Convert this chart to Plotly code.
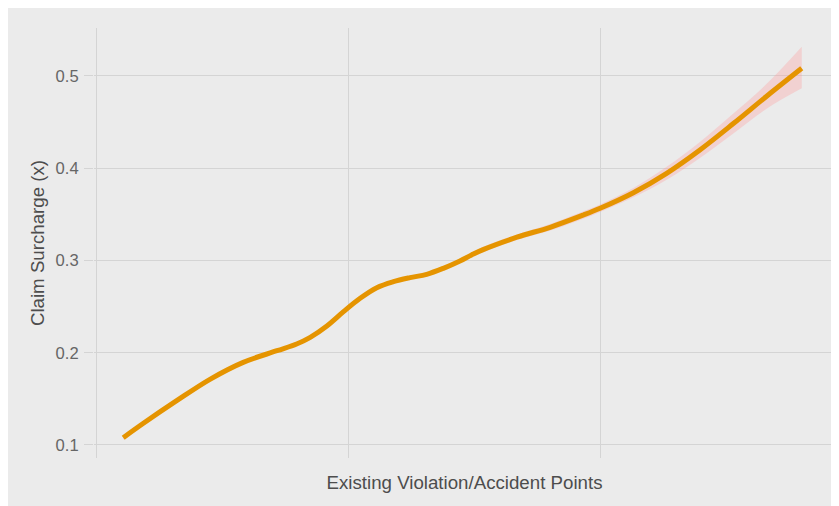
import plotly.graph_objects as go

# Claim surcharge vs. existing violation/accident points (smoothed fit + band)
points = [0.54, 0.94, 1.60, 2.26, 2.92, 3.59, 3.98, 4.25, 4.58, 4.91, 5.24, 5.57, 5.90, 6.23,
          6.56, 6.89, 7.22, 7.45, 7.68, 8.35, 9.01, 9.67, 10.0, 10.66, 11.32, 11.98, 12.65,
          13.31, 14.00]
surcharge = [0.1079, 0.1235, 0.1480, 0.1712, 0.1896, 0.2022, 0.2095, 0.2167, 0.2290, 0.2445,
             0.2590, 0.2705, 0.2770, 0.2814, 0.2850, 0.2915, 0.2995, 0.3060, 0.3118, 0.3252,
             0.3360, 0.3493, 0.3566, 0.3735, 0.3945, 0.4198, 0.4487, 0.4783, 0.5083]
ci_lower = [0.1059, 0.1215, 0.1460, 0.1692, 0.1876, 0.2002, 0.2075, 0.2147, 0.2270, 0.2425,
            0.2570, 0.2685, 0.2750, 0.2794, 0.2830, 0.2895, 0.2975, 0.3035, 0.3088, 0.3222,
            0.3325, 0.3453, 0.3526, 0.3685, 0.3875, 0.4111, 0.4379, 0.4648, 0.4866]
ci_upper = [0.1099, 0.1255, 0.1500, 0.1732, 0.1916, 0.2042, 0.2115, 0.2187, 0.2310, 0.2465,
            0.2610, 0.2725, 0.2790, 0.2834, 0.2870, 0.2935, 0.3015, 0.3085, 0.3148, 0.3282,
            0.3395, 0.3533, 0.3606, 0.3785, 0.4015, 0.4285, 0.4595, 0.4918, 0.5317]
y_ticks = [0.1, 0.2, 0.3, 0.4, 0.5]

BG = "#ebebeb"
GRID = "#d4d4d4"
LINE = "#e59400"

fig = go.Figure()
fig.add_trace(go.Scatter(x=points, y=ci_lower, mode="lines", line={"width": 0, "shape": "spline"},
                         hoverinfo="skip", showlegend=False))
fig.add_trace(go.Scatter(x=points, y=ci_upper, mode="lines", line={"width": 0, "shape": "spline"},
                         fill="tonexty", fillcolor="rgba(255,150,150,0.3)",
                         hoverinfo="skip", showlegend=False))
fig.add_trace(go.Scatter(x=points, y=surcharge, mode="lines",
                         line={"color": LINE, "width": 5, "shape": "spline"},
                         showlegend=False))

fig.update_layout(
    width=831,
    height=498,
    margin={"l": 86, "r": 4, "t": 20, "b": 48},
    paper_bgcolor=BG,
    plot_bgcolor=BG,
    font={"family": "Liberation Sans, Arial, sans-serif", "color": "#666666"},
    xaxis={
        "range": [-0.04, 14.66],
        "tickvals": [0, 5, 10],
        "showticklabels": False,
        "showgrid": True,
        "gridcolor": GRID,
        "gridwidth": 1,
        "zeroline": False,
        "title": {"text": "Existing Violation/Accident Points",
                  "font": {"size": 18.7, "color": "#4d4d4d"}, "standoff": 17},
    },
    yaxis={
        "range": [0.0859, 0.552],
        "tickvals": y_ticks,
        "ticktext": [str(v) for v in y_ticks],
        "ticks": "outside",
        "ticklen": 9,
        "tickcolor": GRID,
        "ticklabelstandoff": 2,
        "tickfont": {"size": 16.6, "color": "#666666"},
        "gridcolor": GRID,
        "gridwidth": 1,
        "zeroline": False,
        "title": {"text": "Claim Surcharge (x)",
                  "font": {"size": 18.7, "color": "#4d4d4d"}, "standoff": 6},
    },
)

fig.write_html("out.html")
